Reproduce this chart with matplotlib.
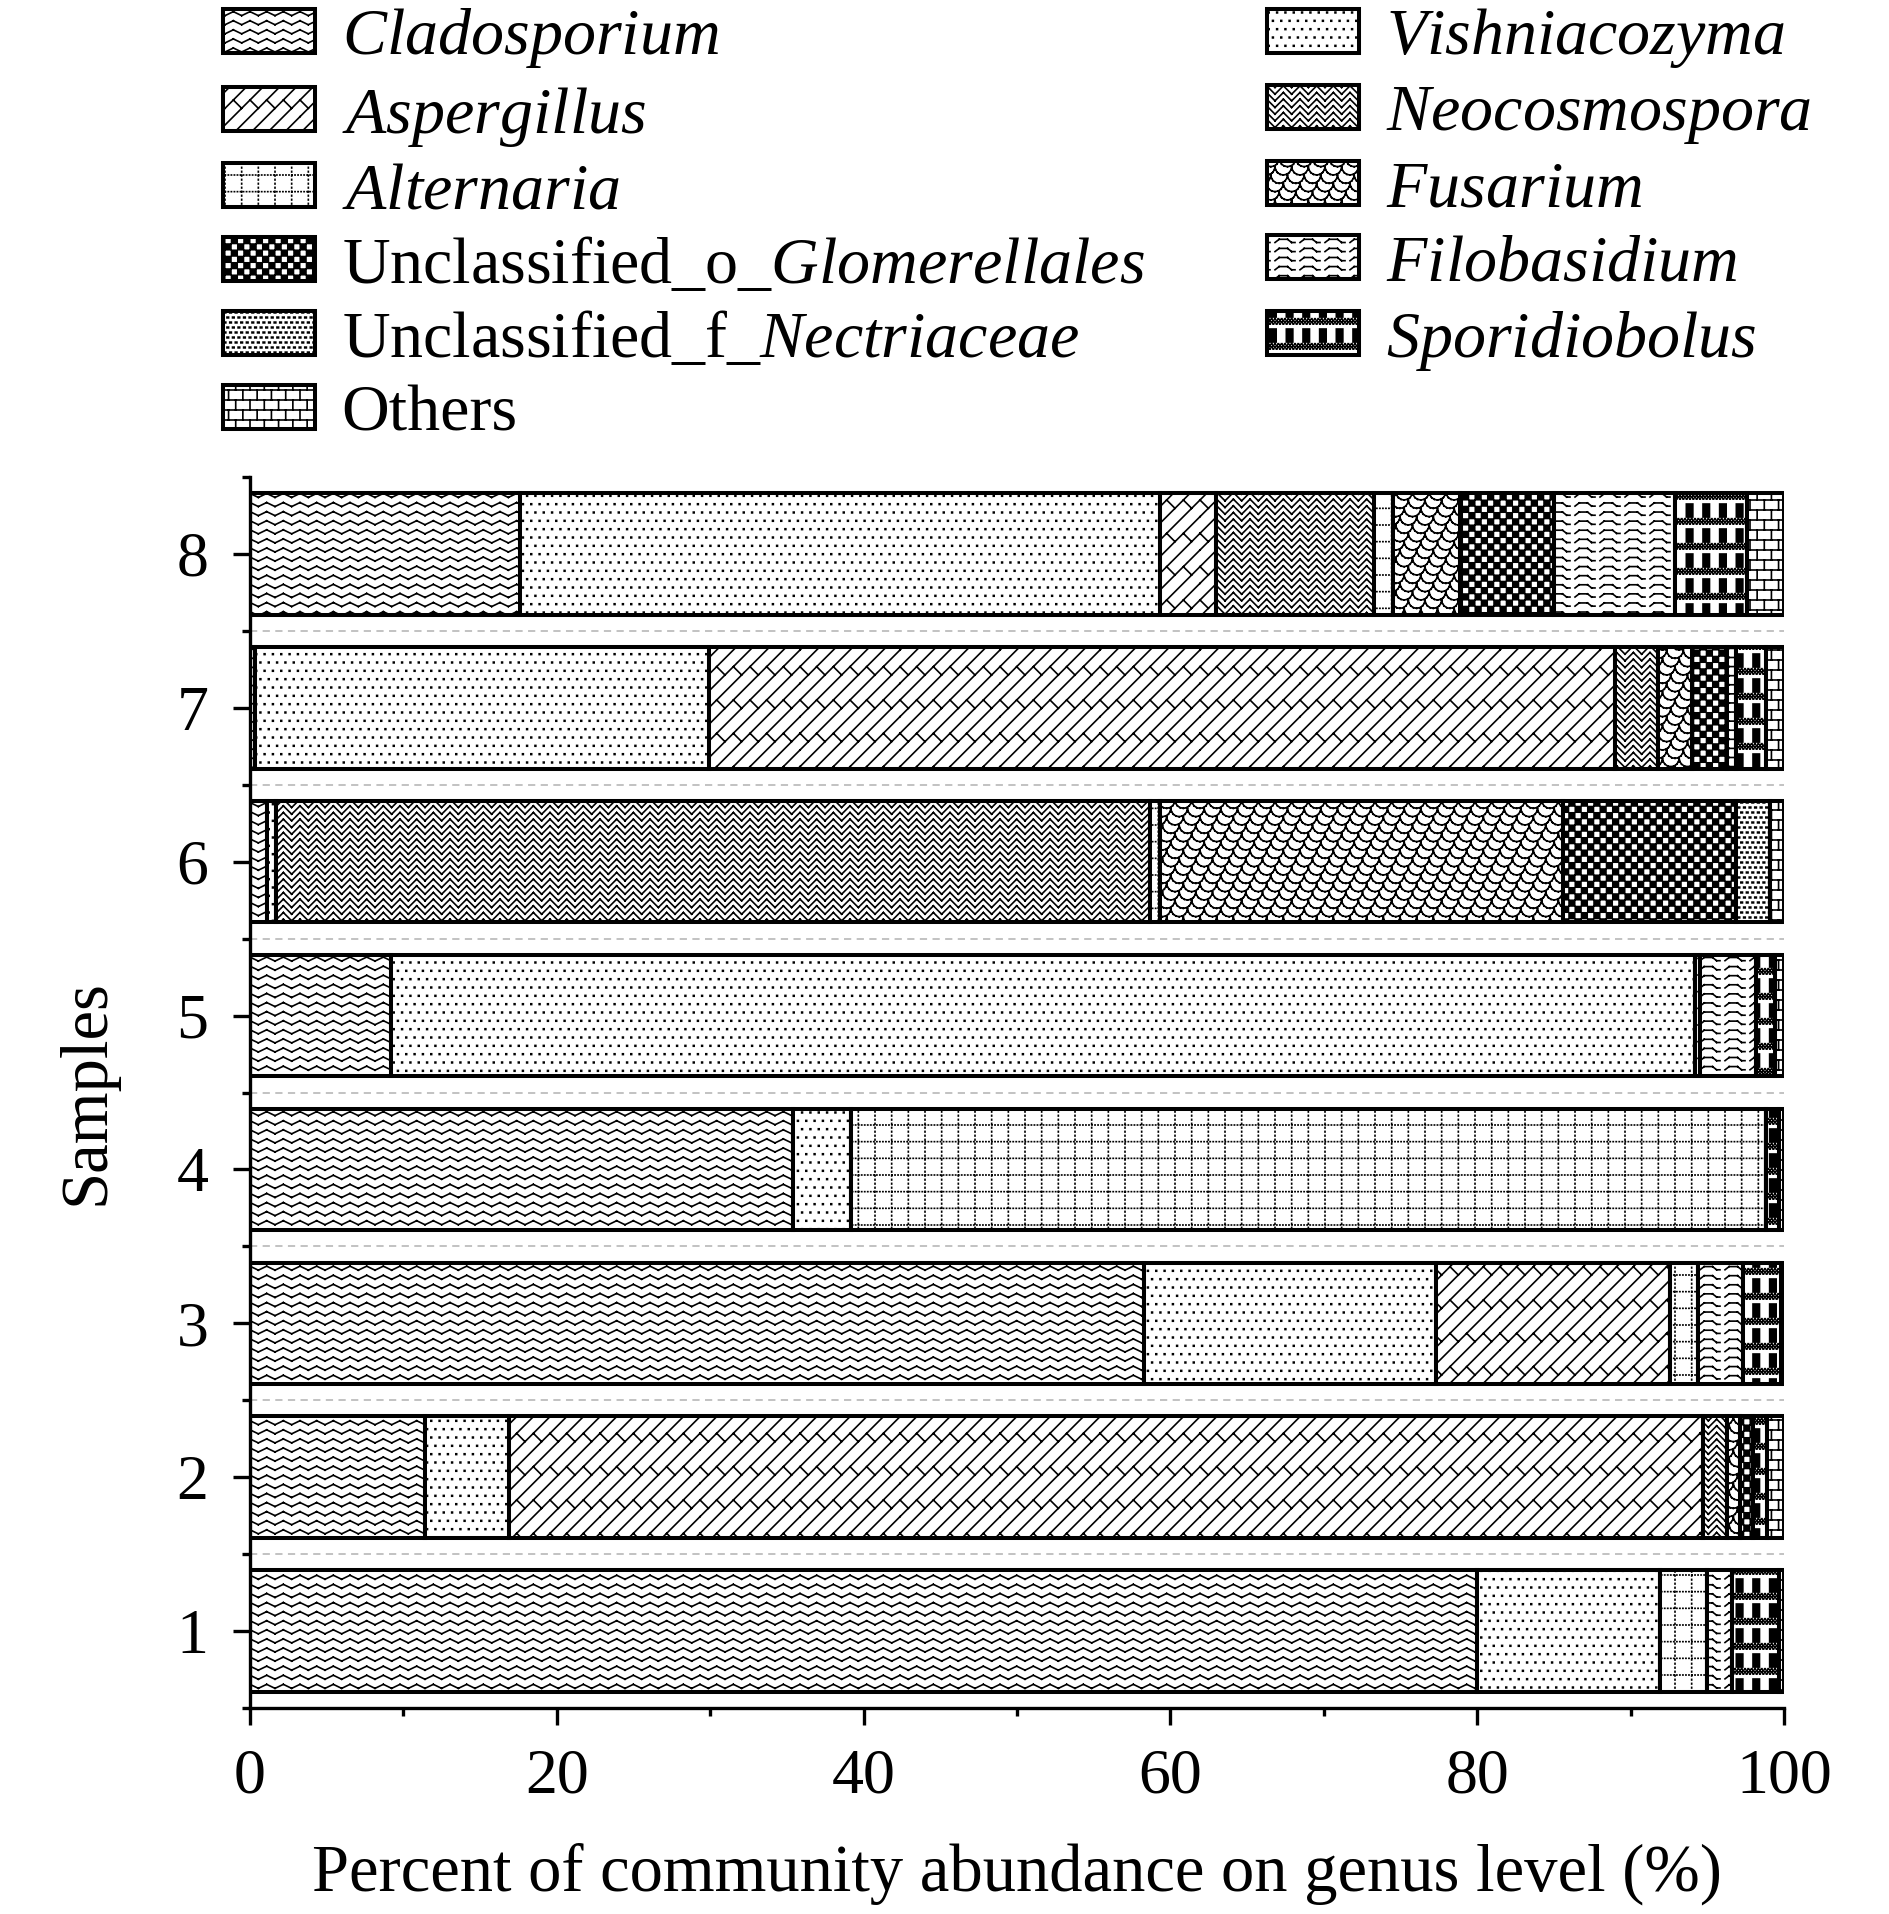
import warnings
warnings.filterwarnings('ignore')
import numpy as np
import matplotlib
matplotlib.use('Agg')
import matplotlib.pyplot as plt
import matplotlib.hatch as mhatch
from matplotlib.path import Path

# ---------------- data ----------------
samples = ['1', '2', '3', '4', '5', '6', '7', '8']
genera = ['Cladosporium', 'Vishniacozyma', 'Aspergillus', 'Neocosmospora',
          'Alternaria', 'Fusarium', 'Unclassified_o_Glomerellales',
          'Filobasidium', 'Unclassified_f_Nectriaceae', 'Sporidiobolus', 'Others']
cladosporium = [80.0, 11.4, 58.3, 35.4, 9.2, 1.1, 0.3, 17.6]
vishniacozyma = [11.9, 5.5, 19.0, 3.8, 85.0, 0.6, 29.6, 41.7]
aspergillus = [0.0, 77.8, 15.3, 0.0, 0.0, 0.0, 59.1, 3.7]
neocosmospora = [0.0, 1.6, 0.0, 0.0, 0.0, 57.0, 2.8, 10.3]
alternaria = [3.1, 0.0, 1.8, 59.6, 0.3, 0.6, 0.0, 1.2]
fusarium = [0.0, 0.8, 0.0, 0.0, 0.0, 26.3, 2.2, 4.4]
glomerellales = [0.0, 0.9, 0.0, 0.0, 0.0, 11.3, 2.3, 6.1]
filobasidium = [1.6, 0.0, 2.9, 0.0, 3.7, 0.0, 0.6, 7.9]
nectriaceae = [0.0, 0.0, 0.0, 0.0, 0.0, 2.2, 0.0, 0.0]
sporidiobolus = [3.1, 0.9, 2.5, 0.9, 1.2, 0.0, 1.9, 4.7]
others = [0.3, 1.1, 0.2, 0.3, 0.6, 0.9, 1.2, 2.4]
series = [cladosporium, vishniacozyma, aspergillus, neocosmospora, alternaria,
          fusarium, glomerellales, filobasidium, nectriaceae, sporidiobolus, others]

labels = [r'$\mathit{Cladosporium}$', r'$\mathit{Vishniacozyma}$',
          r'$\mathit{Aspergillus}$', r'$\mathit{Neocosmospora}$',
          r'$\mathit{Alternaria}$', r'$\mathit{Fusarium}$',
          r'Unclassified_o_$\mathit{Glomerellales}$', r'$\mathit{Filobasidium}$',
          r'Unclassified_f_$\mathit{Nectriaceae}$', r'$\mathit{Sporidiobolus}$',
          'Others']

# ---------------- custom hatch textures ----------------
mhatch._validate_hatch_pattern = lambda h: None


def build(segs, polys):
    V, C = [], []
    for dx in (-1, 0, 1):
        for dy in (-1, 0, 1):
            for (a, b) in segs:
                V += [(a[0] + dx, a[1] + dy), (b[0] + dx, b[1] + dy)]
                C += [Path.MOVETO, Path.LINETO]
            for p in polys:
                V += [(x + dx, y + dy) for x, y in p] + [(p[0][0] + dx, p[0][1] + dy)]
                C += [Path.MOVETO] + [Path.LINETO] * (len(p) - 1) + [Path.CLOSEPOLY]
    return np.array(V, float), np.array(C, dtype=Path.code_type)


def sq(x, y, hw, hh=None):
    hh = hw if hh is None else hh
    return [(x - hw, y - hh), (x + hw, y - hh), (x + hw, y + hh), (x - hw, y + hh)]


def chain(pts):
    return [(pts[k], pts[k + 1]) for k in range(len(pts) - 1)]


def zigzag(y0, half, amp):
    n = int(round(1 / half))
    pts = [(k * half, y0 + (amp if k % 2 == 0 else -amp)) for k in range(n + 1)]
    return chain(pts)


def pat_clado():
    segs = []
    for j in range(11):
        segs += zigzag((j + 0.5) / 11, 1 / 12, 0.02)
    return segs, []


def pat_vishn():
    polys = []
    n = 12
    for j in range(n):
        for i in range(n):
            polys.append(sq((i + 0.5 * (j % 2) + 0.25) / n, (j + 0.5) / n, 0.004))
    return [], polys


def pat_asp():
    segs = []
    for k in range(6):
        segs.append(((0, k / 6), (1, 1 + k / 6)))
        for j in range(3):
            x0 = j / 3 + (k % 2) / 6
            segs.append(((x0, x0 + k / 6), (x0 + 1 / 12, x0 + k / 6 - 1 / 12)))
    return segs, []


def pat_neo():
    segs = []
    for j in range(15):
        segs += zigzag((j + 0.5) / 15, 1 / 12, 1 / 24)
    return segs, []


def pat_alt():
    segs = []
    for i in range(6):
        x = (i + 0.5) / 6
        for t in range(25):
            y = t / 25
            segs.append(((x, y), (x, y + 0.006)))
    for j in range(6):
        y = (j + 0.5) / 6
        for t in range(33):
            x = t / 33 + 0.01
            segs.append(((x, y), (x + 0.002, y)))
    return segs, []


def pat_fus():
    segs = []
    r = 1 / 12
    th = np.linspace(np.pi, 2 * np.pi, 9)
    for j in range(12):
        cy = j / 12
        for i in range(6):
            cx = i / 6 + j / 24
            segs += chain([(cx + r * np.cos(t), cy + r * np.sin(t)) for t in th])
    return segs, []


def pat_glom():
    polys = []
    n = 16
    c = 1 / n
    for j in range(n):
        for i in range(n):
            if (i + j) % 2 == 0:
                polys.append(sq((i + 0.5) * c, (j + 0.5) * c, c / 2 - 0.003))
    return [], polys


def pat_filo():
    segs = []
    p = 1 / 4
    a = 0.016
    for j in range(11):
        y0 = (j + 0.5) / 11
        for i in range(4):
            x0 = i * p
            segs += chain([(x0, y0 - a), (x0 + p / 6, y0 + a), (x0 + p / 2, y0 + a),
                           (x0 + 2 * p / 3, y0 - a), (x0 + 0.8 * p, y0 - a)])
    return segs, []


def pat_nect():
    polys = []
    for j in range(20):
        for i in range(18):
            polys.append(sq((i + 0.5 * (j % 2)) / 18, (j + 0.5) / 20, 0.008, 0.004))
    return [], polys


def pat_spor():
    polys = []
    for j in range(4):
        yb = j / 4
        for i in range(6):
            x = i / 6 + 0.03
            polys.append([(x, yb + 0.08), (x + 0.065, yb + 0.08),
                          (x + 0.065, yb + 0.21), (x, yb + 0.21)])
        for r in range(4):
            y = yb + 0.012 + r * 0.016
            for t in range(30):
                polys.append(sq((t + 0.5 * (r % 2)) / 30, y, 0.003))
    return [], polys


def pat_others():
    segs = []
    nr = 10
    for j in range(nr):
        y = j / nr
        segs.append(((0, y), (1, y)))
        for i in range(7):
            x = i / 7 + (j % 2) / 14
            segs.append(((x, y), (x, y + 1 / nr)))
    return segs, []


builders = [pat_clado, pat_vishn, pat_asp, pat_neo, pat_alt, pat_fus,
            pat_glom, pat_filo, pat_nect, pat_spor, pat_others]
hatch_chars = ['a', 'b', 'c', 'd', 'e', 'f', 'g', 'h', 'i', 'j', 'k']


def make_hatch_class(ch, V, C):
    class H(mhatch.HatchPatternBase):
        def __init__(self, hatch, density):
            self.num_vertices = len(V) if (hatch and ch in hatch) else 0

        def set_vertices_and_codes(self, vertices, codes):
            vertices[:] = V
            codes[:] = C
    return H


for ch, fn in zip(hatch_chars, builders):
    s, p = fn()
    V, C = build(s, p)
    mhatch._hatch_types.append(make_hatch_class(ch, V, C))

# ---------------- style ----------------
plt.rcParams['font.family'] = ['Liberation Serif', 'DejaVu Serif']
plt.rcParams['mathtext.fontset'] = 'custom'
plt.rcParams['mathtext.rm'] = 'Liberation Serif'
plt.rcParams['mathtext.it'] = 'Liberation Serif:italic'
plt.rcParams['hatch.linewidth'] = 1.2
plt.rcParams['hatch.color'] = 'black'

W, H = 1890, 1914
fig = plt.figure(figsize=(W / 100, H / 100), dpi=100)
ax = fig.add_axes([250 / W, 1 - 1708 / H, (1784 - 250) / W, (1708 - 477) / H])

y = np.arange(1, len(samples) + 1)
left = np.zeros(len(samples))
containers = []
for vals, ch in zip(series, hatch_chars):
    vals = np.asarray(vals, float)
    bc = ax.barh(y, vals, left=left, height=0.79, color='white',
                 edgecolor='black', linewidth=2.9, hatch=ch)
    containers.append(bc)
    left = left + vals

for yy in y[:-1] + 0.5:
    ax.axhline(yy, color='#bdbdbd', lw=1.3, ls=(0, (4, 3)), zorder=0)

ax.set_xlim(0, 100)
ax.set_ylim(0.5, len(samples) + 0.5)
ax.set_xticks(np.arange(0, 101, 20))
ax.set_xticks(np.arange(10, 100, 20), minor=True)
ax.set_yticks(y)
ax.set_yticklabels(samples)
ax.set_yticks(np.arange(0.5, len(samples) + 1, 1.0), minor=True)
for sp in ['top', 'right']:
    ax.spines[sp].set_visible(False)
for sp in ['left', 'bottom']:
    ax.spines[sp].set_linewidth(2.4)
ax.tick_params(axis='both', which='major', direction='out', length=12, width=2.4,
               labelsize=46)
ax.tick_params(axis='both', which='minor', direction='out', length=6, width=2.4)
ax.tick_params(axis='x', which='major', pad=17)
ax.tick_params(axis='y', which='major', pad=18)
ax.set_xlabel('Percent of community abundance on genus level (%)', fontsize=48,
              labelpad=26)
ax.set_ylabel('Samples', fontsize=48, labelpad=42)

col1 = [0, 2, 4, 6, 8, 10]
col2 = [1, 3, 5, 7, 9]
common = dict(loc='upper left', frameon=False, fontsize=47.5, handlelength=1.39,
              handleheight=0.65, handletextpad=0.41, labelspacing=0.22,
              borderpad=0, borderaxespad=0)
fig.legend([containers[i] for i in col1], [labels[i] for i in col1],
           bbox_to_anchor=(223 / W, 1.0 - 6 / H), **common)
fig.legend([containers[i] for i in col2], [labels[i] for i in col2],
           bbox_to_anchor=(1267 / W, 1.0 - 6 / H), **common)

fig.savefig('out.png', dpi=100)
